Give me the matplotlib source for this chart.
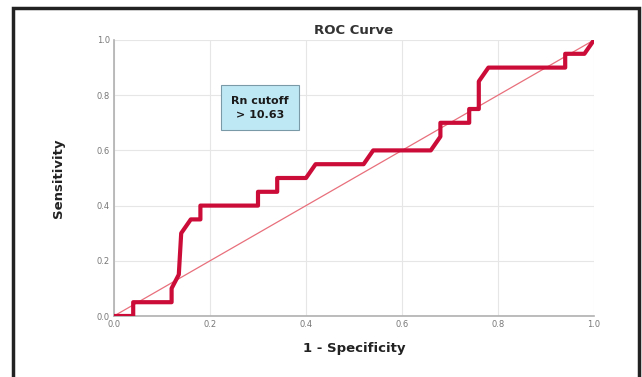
import numpy as np
import matplotlib.pyplot as plt
from matplotlib.patches import Rectangle

# ROC curve points (1 - specificity, sensitivity)
fpr = [0.0, 0.04, 0.04, 0.12, 0.12, 0.135, 0.14, 0.16, 0.18, 0.18, 0.30, 0.30,
       0.34, 0.34, 0.40, 0.42, 0.52, 0.54, 0.66, 0.68, 0.68, 0.74, 0.74, 0.76,
       0.76, 0.78, 0.94, 0.94, 0.98, 1.0]
tpr = [0.0, 0.0, 0.05, 0.05, 0.10, 0.15, 0.30, 0.35, 0.35, 0.40, 0.40, 0.45,
       0.45, 0.50, 0.50, 0.55, 0.55, 0.60, 0.60, 0.65, 0.70, 0.70, 0.75, 0.75,
       0.85, 0.90, 0.90, 0.95, 0.95, 1.0]
ref_line = [0.0, 1.0]
ticks = [0.0, 0.2, 0.4, 0.6, 0.8, 1.0]
tick_labels = ["0.0", "0.2", "0.4", "0.6", "0.8", "1.0"]
cutoff_text = "Rn cutoff\n> 10.63"

fig = plt.figure(figsize=(6.42, 3.77), dpi=100)
ax = fig.add_axes([114 / 642, 1 - 316 / 377, 480 / 642, 276 / 377])

ax.plot(ref_line, ref_line, color="#e8707c", linewidth=0.9, zorder=2)
ax.plot(fpr, tpr, color="#cc0c38", linewidth=3.0, solid_joinstyle="round", zorder=3)

ax.set_xlim(0, 1)
ax.set_ylim(0, 1)
ax.set_xticks(ticks)
ax.set_yticks(ticks)
ax.set_xticklabels(tick_labels)
ax.set_yticklabels(tick_labels)
ax.tick_params(length=0, labelsize=6, labelcolor="#777777", pad=3)
ax.grid(True, color="#e6e6e6", linewidth=0.8)
ax.set_axisbelow(True)
for side in ["top", "right"]:
    ax.spines[side].set_visible(False)
for side in ["left", "bottom"]:
    ax.spines[side].set_color("#b0b0b0")
    ax.spines[side].set_linewidth(1.2)

ax.set_title("ROC Curve", fontsize=9.5, fontweight="bold", color="#333333", pad=4)
ax.set_xlabel("1 - Specificity", fontsize=9.5, fontweight="bold", color="#222222", labelpad=9)
ax.set_ylabel("Sensitivity", fontsize=9.5, fontweight="bold", color="#222222", labelpad=23)

ax.text(0.304, 0.755, cutoff_text, ha="center", va="center", fontsize=8,
        fontweight="bold", color="#1a1a1a", linespacing=1.5,
        bbox=dict(boxstyle="square,pad=0.95", facecolor="#bfe8f5", edgecolor="#7a9aa8", linewidth=0.8))

# outer frame
fig.patches.append(Rectangle((13 / 642, -0.05), (639 - 13) / 642, 1.05 - 8 / 377,
                             transform=fig.transFigure, fill=False,
                             edgecolor="#222222", linewidth=2.5))

fig.savefig("out.png", dpi=100)
